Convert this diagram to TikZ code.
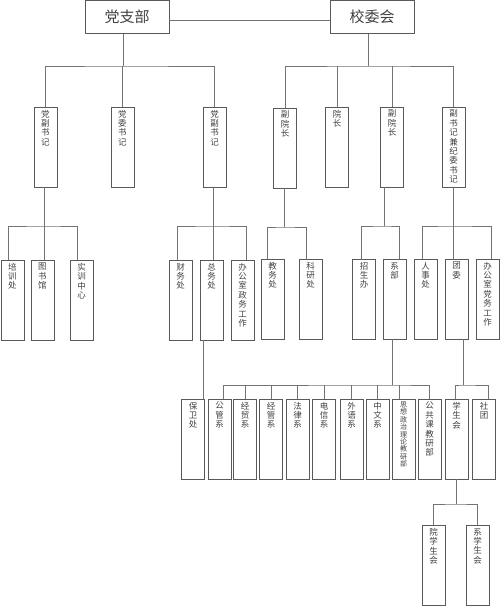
\documentclass[tikz,border=0pt]{standalone}
\usepackage{fontspec}
\newfontfamily\cjk{Noto Sans CJK SC}
\newcommand\vtxt[1]{\parbox[c][74pt][t]{11pt}{\centering #1}}
\tikzset{
  ln/.style={draw=black!55, line width=0.7pt},
  box/.style={draw=black!65, line width=0.7pt, minimum width=23pt, minimum height=80pt,
    inner sep=0pt, text=black!75, font=\cjk\fontsize{8.5}{9.4}\selectfont},
  small/.style={font=\cjk\fontsize{7}{7.4}\selectfont},
  topbox/.style={draw=black!65, line width=0.7pt, minimum width=84pt, minimum height=33pt,
    inner sep=0pt, text=black!75, font=\cjk\fontsize{15}{15}\selectfont}
}
\begin{document}
\begin{tikzpicture}[x=1pt,y=-1pt]
\useasboundingbox (0,0) rectangle (500,606);
% top
\node[topbox] (dzb) at (127,17) {党支部};
\node[topbox] (xwh) at (372,17) {校委会};
\draw[ln] ([yshift=-3pt]dzb.east) -- ([yshift=-3pt]xwh.west);
% level 2
\node[box] (a1) at (45.5,147) {\vtxt{党\\副\\书\\记}};
\node[box] (a2) at (122.5,147) {\vtxt{党\\委\\书\\记}};
\node[box] (a3) at (214.5,147) {\vtxt{党\\副\\书\\记}};
\node[box] (b1) at (285,148) {\vtxt{副\\院\\长}};
\node[box] (b2) at (337,147) {\vtxt{院\\长}};
\node[box] (b3) at (392,147) {\vtxt{副\\院\\长}};
\node[box] (b4) at (453.5,147) {\vtxt{副\\书\\记\\兼\\纪\\委\\书\\记}};
\coordinate (jL) at (123,66);
\draw[ln] (dzb.south -| jL) -- (jL);
\draw[ln] (a1.north) |- (jL) -| (a3.north);
\draw[ln] (a2.north) -- (a2.north |- jL);
\coordinate (jR) at (368,66);
\draw[ln] (xwh.south -| jR) -- (jR);
\draw[ln] (b1.north) |- (jR) -| (b4.north);
\draw[ln] (b2.north) -- (b2.north |- jR);
\draw[ln] (b3.north) -- (b3.north |- jR);
% level 3
\node[box] (c1) at (12.5,300) {\vtxt{培\\训\\处}};
\node[box] (c2) at (42.5,300) {\vtxt{图\\书\\馆}};
\node[box] (c3) at (81.5,300) {\vtxt{实\\训\\中\\心}};
\node[box] (d1) at (180.5,300) {\vtxt{财\\务\\处}};
\node[box] (d2) at (211.5,300) {\vtxt{总\\务\\处}};
\node[box] (d3) at (242.5,300) {\vtxt{办\\公\\室\\政\\务\\工\\作}};
\node[box] (e1) at (272.5,299) {\vtxt{教\\务\\处}};
\node[box] (e2) at (310.5,299) {\vtxt{科\\研\\处}};
\node[box] (f1) at (364,299) {\vtxt{招\\生\\办}};
\node[box] (f2) at (394.5,299) {\vtxt{系\\部}};
\node[box] (g1) at (425.5,299) {\vtxt{人\\事\\处}};
\node[box] (g2) at (456.5,299) {\vtxt{团\\委}};
\node[box] (g3) at (487.5,299) {\vtxt{办\\公\\室\\党\\务\\工\\作}};
\coordinate (j1) at (44,226);
\draw[ln] (a1.south -| j1) -- (j1);
\draw[ln] ([xshift=-4.5pt]c1.north) |- (j1) -| ([xshift=-4.5pt]c3.north);
\draw[ln] (j1) -- (c2.north -| j1);
\coordinate (j2) at (213,226);
\draw[ln] (a3.south -| j2) -- (j2);
\draw[ln] ([xshift=-3.5pt]d1.north) |- (j2) -| ([xshift=3.5pt]d3.north);
\draw[ln] (j2) -- (d2.north -| j2);
\coordinate (j3) at (284,227);
\draw[ln] (b1.south -| j3) -- (j3);
\draw[ln] ([xshift=-5pt]e1.north) |- (j3) -| ([xshift=-4.5pt]e2.north);
\coordinate (j4) at (384,226);
\draw[ln] (b3.south -| j4) -- (j4);
\draw[ln] ([xshift=-3pt]f1.north) |- (j4) -| ([xshift=4.5pt]f2.north);
\coordinate (j5) at (453,226);
\draw[ln] (b4.south -| j5) -- (j5);
\draw[ln] ([xshift=-3.5pt]g1.north) |- (j5) -| ([xshift=3.5pt]g3.north);
\draw[ln] (j5) -- (g2.north -| j5);
% level 4
\node[box] (h0) at (193,439) {\vtxt{保\\卫\\处}};
\node[box] (h1) at (219.5,439) {\vtxt{公\\管\\系}};
\node[box] (h2) at (245,439) {\vtxt{经\\贸\\系}};
\node[box] (h3) at (271,439) {\vtxt{经\\管\\系}};
\node[box] (h4) at (297.5,439) {\vtxt{法\\律\\系}};
\node[box] (h5) at (324,439) {\vtxt{电\\信\\系}};
\node[box] (h6) at (351.5,439) {\vtxt{外\\语\\系}};
\node[box] (h7) at (377.5,439) {\vtxt{中\\文\\系}};
\node[box,small] (h8) at (403.5,439) {\vtxt{思\\想\\政\\治\\理\\论\\教\\研\\部}};
\node[box] (h9) at (429.5,439) {\vtxt{公\\共\\课\\教\\研\\部}};
\node[box] (k1) at (456.5,439) {\vtxt{学\\生\\会}};
\node[box] (k2) at (484,439) {\vtxt{社\\团}};
\draw[ln] ([xshift=-2pt]h0.north east) -- ([xshift=-2pt]h0.north east |- d2.south);
\coordinate (j6) at (392,385);
\draw[ln] (f2.south -| j6) -- (j6);
\draw[ln] ([xshift=3.5pt]h1.north) |- (j6) -| (h9.north);
\foreach \n in {h2,h3,h4,h5,h6,h7}
  \draw[ln] (\n.north) -- (\n.north |- j6);
\draw[ln] ([xshift=-4.5pt]h8.north) -- ([xshift=-4.5pt]h8.north |- j6);
\coordinate (j7) at (463,385);
\draw[ln] (g2.south -| j7) -- (j7);
\draw[ln] ([xshift=-1.5pt]k1.north) |- (j7) -| ([xshift=4pt]k2.north);
% level 5
\node[box] (m1) at (433.5,565) {\vtxt{院\\学\\生\\会}};
\node[box] (m2) at (477.5,565) {\vtxt{系\\学\\生\\会}};
\coordinate (j8) at (456,504);
\draw[ln] (k1.south -| j8) -- (j8);
\draw[ln] (m1.north) |- (j8) -| (m2.north);
\end{tikzpicture}
\end{document}
